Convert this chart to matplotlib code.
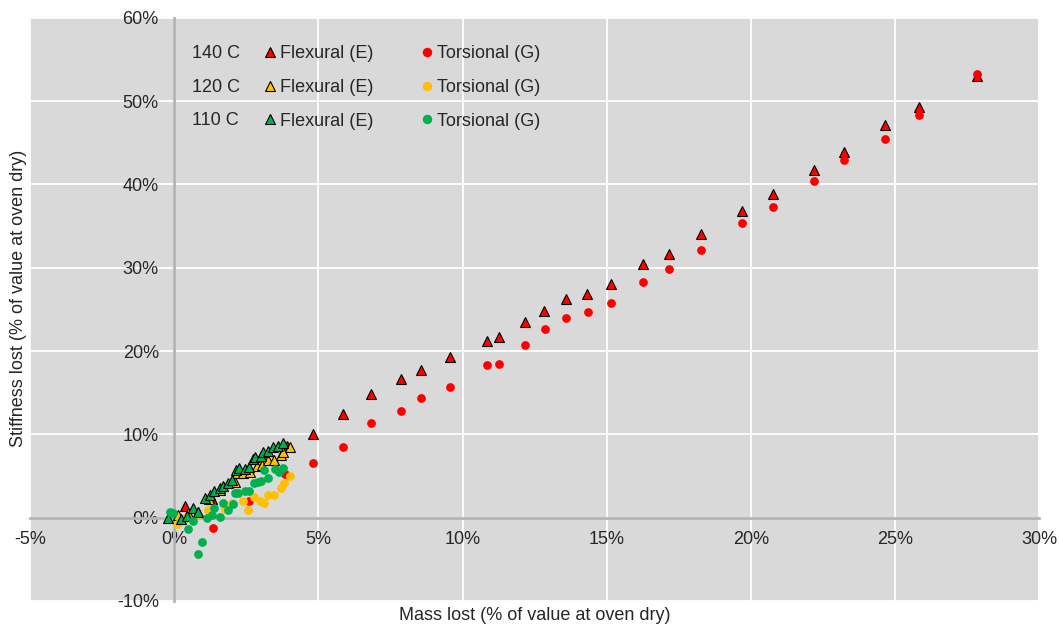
import matplotlib
matplotlib.use("Agg")
import matplotlib.pyplot as plt
from matplotlib.lines import Line2D
from matplotlib.ticker import FuncFormatter, MultipleLocator

plt.rcParams["font.family"] = ["Liberation Sans", "DejaVu Sans"]

# mass lost (%) vs stiffness lost (%)
flex_140_x = [0.38, 1.33, 3.9, 4.83, 5.84, 6.82, 7.86, 8.55, 9.57, 10.86, 11.26, 12.16, 12.83,
              13.59, 14.32, 15.15, 16.26, 17.17, 18.26, 19.69, 20.78, 22.19, 23.23, 24.66, 25.83, 27.85]
flex_140_y = [1.4, 2.2, 8.6, 10.0, 12.4, 14.85, 16.6, 17.7, 19.3, 21.2, 21.7, 23.5, 24.8,
              26.2, 26.8, 28.0, 30.5, 31.7, 34.0, 36.8, 38.8, 41.7, 43.9, 47.1, 49.3, 53.0]
tors_140_x = [1.34, 2.6, 3.85, 4.83, 5.84, 6.82, 7.86, 8.55, 9.57, 10.86, 11.26, 12.16, 12.86,
              13.59, 14.35, 15.15, 16.26, 17.17, 18.26, 19.69, 20.78, 22.2, 23.23, 24.66, 25.83, 27.85]
tors_140_y = [-1.2, 2.0, 5.2, 6.5, 8.5, 11.3, 12.8, 14.3, 15.7, 18.3, 18.4, 20.7, 22.6,
              24.0, 24.7, 25.8, 28.3, 29.8, 32.1, 35.4, 37.3, 40.4, 42.9, 45.4, 48.3, 53.2]

flex_120_x = [0.15, 0.49, 0.84, 1.21, 1.6, 2.11, 2.17, 2.4, 2.63, 2.86, 3.04, 3.27, 3.48, 3.71, 3.79, 4.02]
flex_120_y = [0.3, 0.5, 0.7, 2.2, 3.3, 4.3, 5.3, 5.3, 5.5, 6.2, 6.3, 6.9, 6.9, 7.5, 7.9, 8.5]
tors_120_x = [0.09, 0.38, 0.84, 1.19, 1.76, 2.02, 2.4, 2.57, 2.78, 2.98, 3.13, 3.25, 3.48, 3.71, 3.82, 4.02]
tors_120_y = [-0.8, 0.0, 0.3, 0.9, 1.0, 1.7, 2.0, 0.9, 2.5, 2.0, 1.8, 2.7, 2.7, 3.6, 4.2, 5.0]

flex_110_x = [-0.2, 0.24, 0.44, 0.67, 0.84, 1.07, 1.24, 1.4, 1.59, 1.71, 1.86, 2.02, 2.15, 2.25,
              2.46, 2.6, 2.75, 2.8, 3.01, 3.09, 3.27, 3.44, 3.61, 3.79]
flex_110_y = [0.0, -0.2, 0.2, 1.2, 0.7, 2.3, 2.7, 3.2, 3.5, 3.8, 4.1, 4.5, 5.7, 5.9,
              5.8, 6.1, 7.0, 7.3, 7.4, 7.9, 8.0, 8.5, 8.6, 8.9]
tors_110_x = [-0.14, -0.03, 0.47, 0.67, 0.96, 0.82, 1.13, 1.3, 1.4, 1.59, 1.68, 1.86, 2.03, 2.11,
              2.23, 2.46, 2.61, 2.78, 2.92, 3.01, 3.13, 3.27, 3.5, 3.64, 3.79]
tors_110_y = [0.7, 0.5, -1.4, -0.4, -2.9, -4.4, 0.0, 0.3, 1.2, 0.1, 1.8, 0.9, 1.6, 2.9,
              2.9, 3.2, 3.2, 4.1, 4.3, 4.4, 5.7, 4.8, 5.8, 5.5, 5.9]

temps = ["140 C", "120 C", "110 C"]
colors = ["#ff0000", "#ffc000", "#00b050"]
series = [(flex_140_x, flex_140_y, tors_140_x, tors_140_y),
          (flex_120_x, flex_120_y, tors_120_x, tors_120_y),
          (flex_110_x, flex_110_y, tors_110_x, tors_110_y)]

W, H = 1059, 628
fig = plt.figure(figsize=(W / 100, H / 100), dpi=100)
ax = fig.add_axes([29.9 / W, 27.1 / H, 1009.4 / W, 583.1 / H])
ax.set_facecolor("#d9d9d9")

for (fx, fy, tx, ty), col in zip(series, colors):
    ax.plot(fx, fy, ls="none", marker="^", ms=7.5, mfc=col, mec="black", mew=0.8, zorder=3)
    ax.plot(tx, ty, ls="none", marker="o", ms=6.3, mfc=col, mec=col, mew=0, zorder=3)

ax.set_xlim(-5, 30)
ax.set_ylim(-10, 60)
ax.xaxis.set_major_locator(MultipleLocator(5))
ax.yaxis.set_major_locator(MultipleLocator(10))
pct = FuncFormatter(lambda v, _: f"{v:.0f}%")
ax.xaxis.set_major_formatter(pct)
ax.yaxis.set_major_formatter(pct)
ax.grid(True, color="white", lw=1.3)
ax.set_axisbelow(True)

for s in ("top", "right"):
    ax.spines[s].set_visible(False)
ax.spines["left"].set_position(("data", 0))
ax.spines["bottom"].set_position(("data", 0))
for s in ("left", "bottom"):
    ax.spines[s].set_color("#b4b4b4")
    ax.spines[s].set_linewidth(2)
    ax.spines[s].set_zorder(2)
ax.tick_params(axis="x", length=0, pad=10, labelsize=13, labelcolor="#262626")
ax.tick_params(axis="y", length=0, pad=11, labelsize=13, labelcolor="#262626")

fig.text(534.5 / W, 1 - 615 / H, "Mass lost (% of value at oven dry)", ha="center", va="center",
         fontsize=13, color="#262626")
fig.text(18.5 / W, 1 - 298 / H, "Stiffness lost (% of value at oven dry)", ha="center", va="center",
         rotation=90, fontsize=13, color="#262626")

# legend: temperature labels as text, markers via legend
for label, row_y in zip(temps, [54, 87.3, 120.7]):
    fig.text(192.3 / W, 1 - row_y / H, label, ha="left", va="center", fontsize=13, color="#262626")

flex_h = [Line2D([], [], ls="none", marker="^", ms=6.5, mfc=c, mec="black", mew=0.8) for c in colors]
tors_h = [Line2D([], [], ls="none", marker="o", ms=5.8, mfc=c, mec=c) for c in colors]
leg = ax.legend(handles=flex_h + tors_h, labels=["Flexural (E)"] * 3 + ["Torsional (G)"] * 3,
                ncol=2, loc="upper left", bbox_to_anchor=(264.6 / W, 1 - 45.5 / H),
                bbox_transform=fig.transFigure, frameon=False, borderpad=0, borderaxespad=0,
                handlelength=0.6, handletextpad=0.25, columnspacing=2.67, labelspacing=0.92,
                fontsize=13)
for t in leg.get_texts():
    t.set_color("#262626")

fig.savefig("out.png", dpi=100)
